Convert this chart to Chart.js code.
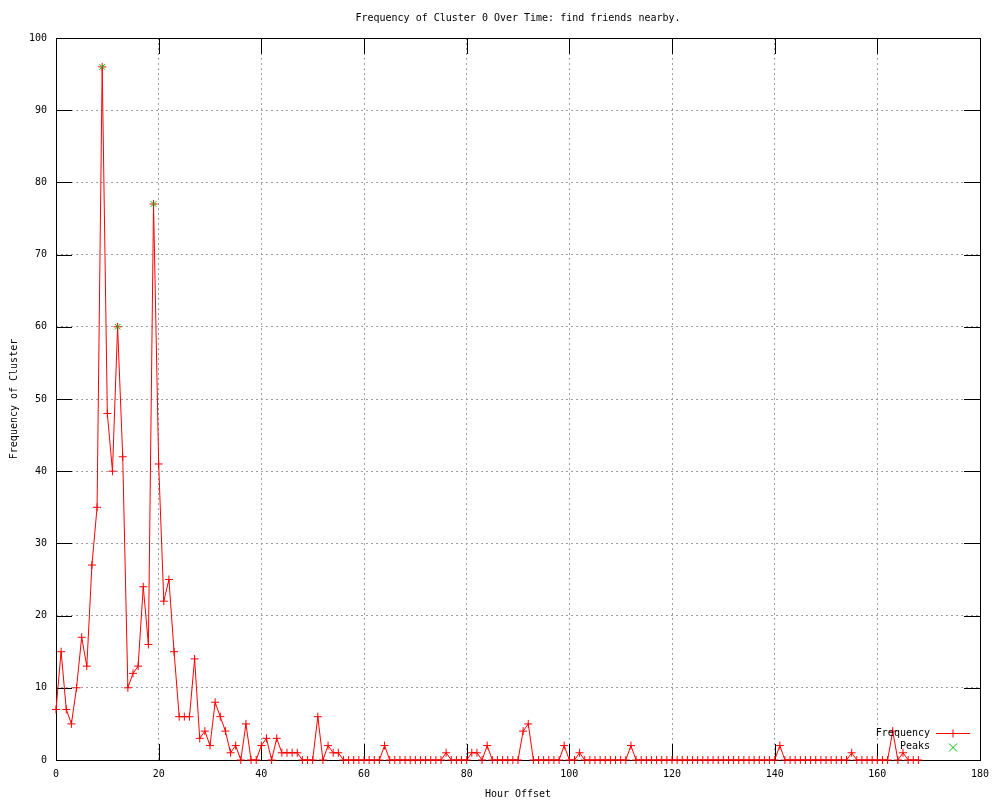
<!DOCTYPE html>
<html>
<head>
<meta charset="utf-8">
<script src="https://cdn.jsdelivr.net/npm/chart.js@4.4.0/dist/chart.umd.min.js"></script>
<style>
  html, body { margin: 0; padding: 0; background: #fff; }
</style>
</head>
<body>
<canvas id="chart" width="1000" height="800"></canvas>
<script>
// frequency per hour offset, hour = index (0..168)
const frequency = [
  7, 15, 7, 5, 10, 17, 13, 27, 35, 96,
  48, 40, 60, 42, 10, 12, 13, 24, 16, 77,
  41, 22, 25, 15, 6, 6, 6, 14, 3, 4,
  2, 8, 6, 4, 1, 2, 0, 5, 0, 0,
  2, 3, 0, 3, 1, 1, 1, 1, 0, 0,
  0, 6, 0, 2, 1, 1, 0, 0, 0, 0,
  0, 0, 0, 0, 2, 0, 0, 0, 0, 0,
  0, 0, 0, 0, 0, 0, 1, 0, 0, 0,
  0, 1, 1, 0, 2, 0, 0, 0, 0, 0,
  0, 4, 5, 0, 0, 0, 0, 0, 0, 2,
  0, 0, 1, 0, 0, 0, 0, 0, 0, 0,
  0, 0, 2, 0, 0, 0, 0, 0, 0, 0,
  0, 0, 0, 0, 0, 0, 0, 0, 0, 0,
  0, 0, 0, 0, 0, 0, 0, 0, 0, 0,
  0, 2, 0, 0, 0, 0, 0, 0, 0, 0,
  0, 0, 0, 0, 0, 1, 0, 0, 0, 0,
  0, 0, 0, 4, 0, 1, 0, 0, 0
];

const peakHours = [9, 12, 19];
const peakValues = [96, 60, 77];

const titleText = 'Frequency of Cluster 0 Over Time: find friends nearby.';
const xTitle = 'Hour Offset';
const yTitle = 'Frequency of Cluster';

const FONT = '"DejaVu Sans Mono", "Liberation Mono", monospace';

const freqPoints = frequency.map((v, i) => ({ x: i, y: v }));
const peakPoints = peakHours.map((h, i) => ({ x: h, y: peakValues[i] }));

// draws a gnuplot-like marker
const drawMark = (ctx, style, x, y, r, color) => {
  ctx.save();
  ctx.strokeStyle = color;
  ctx.lineWidth = 1;
  ctx.beginPath();
  if (style === 'cross') {
    ctx.moveTo(x - r, y); ctx.lineTo(x + r, y);
    ctx.moveTo(x, y - r); ctx.lineTo(x, y + r);
  } else {
    ctx.moveTo(x - r, y - r); ctx.lineTo(x + r, y + r);
    ctx.moveTo(x - r, y + r); ctx.lineTo(x + r, y - r);
  }
  ctx.stroke();
  ctx.restore();
};

const frame = {
  id: 'frame',
  beforeDatasetsDraw(chart) {
    const { ctx, chartArea: a, scales: { x, y } } = chart;
    const len = 16;
    ctx.save();
    ctx.strokeStyle = '#000';
    ctx.lineWidth = 1;
    ctx.beginPath();
    x.ticks.forEach(t => {
      const px = Math.round(x.getPixelForValue(t.value)) + 0.5;
      ctx.moveTo(px, a.bottom); ctx.lineTo(px, a.bottom - len);
      ctx.moveTo(px, a.top); ctx.lineTo(px, a.top + len);
    });
    y.ticks.forEach(t => {
      const py = Math.round(y.getPixelForValue(t.value)) + 0.5;
      ctx.moveTo(a.left, py); ctx.lineTo(a.left + len, py);
      ctx.moveTo(a.right, py); ctx.lineTo(a.right - len, py);
    });
    ctx.stroke();
    ctx.strokeRect(Math.round(a.left) + 0.5, Math.round(a.top) + 0.5,
      Math.round(a.right - a.left), Math.round(a.bottom - a.top));
    ctx.restore();
  },
  afterDraw(chart) {
    const { ctx, chartArea: a } = chart;
    ctx.save();
    ctx.font = '10px ' + FONT;
    ctx.fillStyle = '#000';
    // title centred over the plot area, like gnuplot
    ctx.textAlign = 'center';
    ctx.textBaseline = 'middle';
    ctx.fillText(titleText, (a.left + a.right) / 2, 18);

    ctx.textAlign = 'right';
    chart.data.datasets.forEach((ds, i) => {
      const ly = a.bottom - 27 + i * 13.5;
      ctx.fillStyle = '#000';
      ctx.fillText(ds.label, a.right - 50, ly);
      const mid = a.right - 27;
      if (ds.showLine !== false) {
        ctx.strokeStyle = ds.borderColor;
        ctx.lineWidth = 1;
        ctx.beginPath();
        ctx.moveTo(a.right - 44, Math.round(ly) + 0.5);
        ctx.lineTo(a.right - 10, Math.round(ly) + 0.5);
        ctx.stroke();
      }
      drawMark(ctx, ds.pointStyle, mid, Math.round(ly) + 0.5, 4, ds.pointBorderColor);
    });
    ctx.restore();
  }
};

new Chart(document.getElementById('chart').getContext('2d'), {
  type: 'line',
  data: {
    datasets: [
      {
        label: 'Frequency',
        data: freqPoints,
        borderColor: '#ff0000',
        borderWidth: 1,
        pointStyle: 'cross',
        pointRadius: 4,
        pointBorderColor: '#ff0000',
        pointBorderWidth: 1,
        pointHoverRadius: 4,
        tension: 0,
        clip: 6,
        order: 2
      },
      {
        label: 'Peaks',
        data: peakPoints,
        showLine: false,
        borderColor: '#00c000',
        pointStyle: 'crossRot',
        pointRadius: 4,
        pointBorderColor: '#00c000',
        pointBorderWidth: 1,
        clip: 6,
        order: 1
      }
    ]
  },
  options: {
    responsive: false,
    animation: false,
    events: [],
    layout: { padding: { left: 0, right: 20, top: 38, bottom: 0 } },
    plugins: {
      legend: { display: false },
      tooltip: { enabled: false },
      title: { display: false }
    },
    scales: {
      x: {
        type: 'linear',
        min: 0,
        max: 180,
        afterFit: s => { s.height = 40; },
        ticks: {
          stepSize: 20,
          color: '#000',
          padding: 8,
          maxRotation: 0,
          font: { family: FONT, size: 10 }
        },
        grid: { color: '#a0a0a0', drawTicks: false },
        border: { display: false, dash: [2, 3] },
        title: {
          display: true,
          text: xTitle,
          color: '#000',
          font: { family: FONT, size: 10 },
          padding: { top: 0, bottom: 0 }
        }
      },
      y: {
        min: 0,
        max: 100,
        afterFit: s => { s.width = 56; },
        ticks: {
          stepSize: 10,
          color: '#000',
          padding: 9,
          font: { family: FONT, size: 10 }
        },
        grid: { color: '#a0a0a0', drawTicks: false },
        border: { display: false, dash: [2, 3] },
        title: {
          display: true,
          text: yTitle,
          color: '#000',
          font: { family: FONT, size: 10 },
          padding: { top: 8, bottom: 0 }
        }
      }
    }
  },
  plugins: [frame]
});
</script>
</body>
</html>
